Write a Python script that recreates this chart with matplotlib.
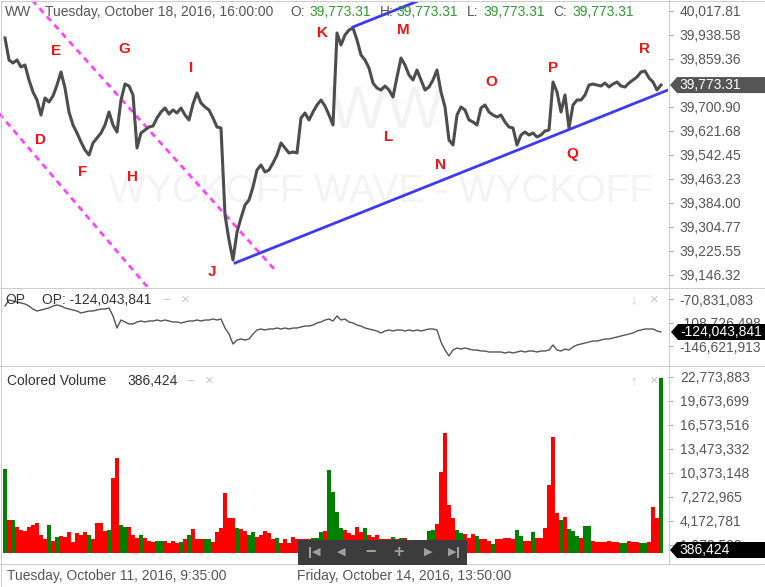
import matplotlib
matplotlib.use("Agg")
import matplotlib.pyplot as plt
import numpy as np
from matplotlib.patches import Polygon, Rectangle
from matplotlib.lines import Line2D
from matplotlib.transforms import IdentityTransform

plt.rcParams['font.family'] = ['Liberation Sans', 'DejaVu Sans']

# ---------------- data ----------------
price = [39928.7, 39856.1, 39846.2, 39856.1, 39832.9, 39839.5, 39790.0, 39750.4, 39724.0, 39674.5,
         39730.6, 39717.4, 39737.2, 39773.5, 39816.4, 39763.6, 39684.4, 39641.5, 39615.1, 39585.4,
         39558.9, 39542.4, 39582.1, 39598.6, 39615.1, 39641.5, 39684.4, 39641.5, 39618.4, 39724.0,
         39776.8, 39770.2, 39740.5, 39565.6, 39615.1, 39625.0, 39634.9, 39638.2, 39664.6, 39684.4,
         39697.6, 39677.8, 39691.0, 39681.1, 39697.6, 39674.5, 39658.0, 39710.8, 39747.1, 39714.1,
         39700.9, 39691.0, 39664.6, 39634.9, 39631.6, 39344.4, 39261.8, 39195.8, 39288.2, 39334.5,
         39377.4, 39393.9, 39436.8, 39492.9, 39509.4, 39486.3, 39492.9, 39516.0, 39542.4, 39582.1,
         39565.6, 39549.0, 39552.3, 39549.0, 39664.6, 39681.1, 39658.0, 39684.4, 39707.5, 39724.0,
         39704.2, 39674.5, 39641.5, 39945.2, 39905.6, 39938.6, 39955.1, 39961.7, 39922.1, 39872.5,
         39856.1, 39829.6, 39780.1, 39763.6, 39757.0, 39770.2, 39757.0, 39733.9, 39799.9, 39862.6,
         39839.5, 39806.5, 39790.0, 39823.0, 39790.0, 39757.0, 39766.9, 39790.0, 39823.0, 39750.4,
         39700.9, 39592.0, 39575.4, 39674.5, 39700.9, 39691.0, 39658.0, 39651.4, 39641.5, 39697.6,
         39707.5, 39684.4, 39674.5, 39667.9, 39674.5, 39651.4, 39634.9, 39631.6, 39575.4, 39608.5,
         39618.4, 39608.5, 39615.1, 39601.9, 39608.5, 39621.7, 39625.0, 39783.4, 39750.4, 39684.4,
         39740.5, 39631.6, 39707.5, 39724.0, 39724.0, 39740.5, 39773.5, 39776.8, 39773.5, 39770.2,
         39780.1, 39766.9, 39776.8, 39783.4, 39770.2, 39766.9, 39780.1, 39790.0, 39799.9, 39816.4,
         39819.7, 39796.6, 39783.4, 39757.0, 39773.31]

op_millions = [-82.1, -72.4, -74.1, -75.7, -77.3, -78.9, -82.1, -87.0, -90.2, -88.6,
               -87.0, -85.3, -82.1, -80.5, -82.1, -85.3, -87.0, -88.6, -90.2, -93.4,
               -91.8, -90.2, -90.2, -88.6, -87.0, -87.0, -85.3, -98.2, -117.6, -104.7,
               -107.9, -111.1, -111.1, -107.9, -106.3, -107.9, -106.3, -106.3, -104.7, -106.3,
               -104.7, -106.3, -107.9, -107.9, -109.5, -107.9, -106.3, -106.3, -104.7, -106.3,
               -104.7, -104.7, -103.1, -104.7, -103.1, -117.6, -127.3, -143.4, -137.0, -135.3,
               -137.0, -135.3, -127.3, -120.8, -119.2, -120.8, -119.2, -119.2, -117.6, -119.2,
               -117.6, -119.2, -117.6, -117.6, -116.0, -114.4, -114.4, -112.8, -109.5, -107.9,
               -104.7, -103.1, -106.3, -98.2, -104.7, -103.1, -107.9, -109.5, -112.8, -114.4,
               -117.6, -119.2, -120.8, -122.4, -125.7, -122.4, -120.8, -122.4, -120.8, -120.8,
               -122.4, -120.8, -122.4, -120.8, -122.4, -120.8, -119.2, -119.2, -120.8, -140.2,
               -153.1, -162.7, -153.1, -149.9, -151.5, -149.9, -151.5, -153.1, -153.1, -154.7,
               -154.7, -156.3, -156.3, -156.3, -156.3, -157.9, -156.3, -157.9, -156.3, -154.7,
               -156.3, -154.7, -154.7, -156.3, -154.7, -154.7, -153.1, -145.0, -153.1, -154.7,
               -151.5, -153.1, -148.2, -145.0, -143.4, -141.8, -140.2, -138.6, -138.6, -137.0,
               -135.3, -135.3, -133.7, -132.1, -130.5, -128.9, -127.3, -125.7, -122.4, -120.8,
               -119.2, -119.2, -119.2, -122.4, -124.04]

volume_millions = [10.85, 4.3, 4.3, 3.3, 3.0, 2.8, 3.4, 3.6, 3.9, 2.3,
                   1.8, 3.6, 1.5, 2.1, 2.2, 2.1, 2.7, 1.4, 2.6, 2.3,
                   2.7, 2.3, 1.8, 3.9, 3.9, 2.9, 3.0, 9.7, 12.3, 3.6,
                   3.3, 3.4, 2.3, 2.0, 2.3, 1.9, 1.6, 1.4, 1.5, 1.5,
                   1.5, 1.3, 1.5, 1.3, 1.4, 1.8, 2.3, 3.1, 1.8, 1.8,
                   1.8, 1.8, 1.4, 2.7, 3.2, 7.75, 4.5, 4.5, 3.2, 3.1,
                   2.8, 2.3, 2.7, 2.1, 2.3, 2.8, 2.6, 1.8, 1.9, 1.3,
                   1.8, 1.3, 2.1, 1.8, 1.8, 1.8, 1.8, 1.9, 1.9, 2.7,
                   2.9, 10.7, 7.9, 5.3, 3.2, 3.0, 2.6, 2.3, 3.3, 2.7,
                   3.2, 2.3, 2.1, 2.3, 1.8, 1.8, 1.8, 2.1, 1.8, 1.9,
                   1.9, 1.5, 1.6, 1.5, 1.6, 1.5, 2.8, 3.0, 3.8, 10.4,
                   15.5, 6.2, 4.5, 3.0, 2.6, 2.4, 1.9, 2.4, 2.2, 1.8,
                   1.8, 1.5, 1.2, 1.8, 1.8, 1.9, 2.0, 1.8, 3.0, 2.2,
                   1.5, 1.5, 2.7, 2.0, 2.0, 3.2, 8.8, 15.0, 5.2, 4.2,
                   4.6, 3.1, 2.9, 2.2, 1.9, 3.5, 3.5, 1.5, 1.4, 1.4,
                   1.4, 1.5, 1.4, 1.4, 1.3, 1.3, 1.5, 1.4, 1.4, 1.3,
                   1.3, 1.4, 5.9, 4.5, 22.6]

volume_direction = ("GRGRRRRRRR" "RGRGRRRRRR" "RGRRRRGRRG" "GRRRGRRRGG" "RRRRGRGRRR"
                    "GGRRRRRRGR" "RGGRRRRRGR" "RRRRRRRGGG" "RGGGGRRRRR" "GRRRRRRGRG"
                    "RRRRRRGGRR" "RRRGGRRRGR" "RRGRRRRRGG" "RRGRRRRRRG" "RGGGRGGRRR"
                    "RRRRGGRRRG" "GRRRG")

price_ticks = [40017.81, 39938.58, 39859.36, 39700.90, 39621.68, 39542.45,
               39463.23, 39384.00, 39304.77, 39225.55, 39146.32]
op_ticks = [-70831083, -108726498, -146621913]
vol_ticks = [1072598, 4172781, 7272965, 10373148, 13473332, 16573516, 19673699, 22773883]
vol_tick_labels = ["1,072,598", "4,172,781", "7,272,965", "10,373,148", "13,473,332",
                   "16,573,516", "19,673,699", "22,773,883"]

wave_letters = list("DEFGHIJKLMNOPQR")
wave_x = [8.75, 12.75, 19.5, 29.75, 31.75, 46.5, 51.75, 79.25, 96, 99.5, 109, 121.5, 137, 141.75, 160]
wave_y = [39592, 39885.8, 39486.3, 39892.4, 39469.8, 39829.6, 39156.2, 39945.2, 39601.9,
          39955.1, 39509.4, 39783.4, 39829.6, 39545.7, 39892.4]

# hand-drawn trend lines (x index, price)
channel_upper = ([6.75, 67.5], [40054.1, 39162.8])
channel_lower = ([-2.5, 36.25], [39695.6, 39096.9])
support_line = ([57.5, 165.75], [39185.9, 39757.0])
support_parallel = ([87.0, 105.0], [39965.0, 40060.1])

last_price = 39773.31
last_op = -124043841
last_vol = 386424

# ---------------- layout ----------------
W, H = 765, 587
fig = plt.figure(figsize=(W / 100, H / 100), dpi=100)
fig.patch.set_facecolor('white')


def box(l, t, r, b):
    return [l / W, 1 - b / H, (r - l) / W, (b - t) / H]


ax_p = fig.add_axes(box(0, 1, 668, 287))
ax_o = fig.add_axes(box(0, 288, 668, 365))
ax_v = fig.add_axes(box(0, 366, 668, 563))

xs = np.arange(len(price))
XL = (-1.25, 165.75)

GRAY = '#555555'
for ax in (ax_p, ax_o, ax_v):
    ax.set_xlim(*XL)
    for s in ax.spines.values():
        s.set_visible(False)
    ax.set_xticks([])
    ax.yaxis.tick_right()
    ax.tick_params(axis='y', direction='out', length=3.5, width=0.8, color='#aaaaaa',
                   labelcolor=GRAY, labelsize=10, pad=5)

# ---- price panel ----
ax_p.set_ylim(39106.7, 40050.8)
ax_p.text(386 / W, 1 - 113 / H, "WW", transform=fig.transFigure, fontsize=44,
          color='#f3f3f3', ha='center', va='center', zorder=0)
ax_p.text(381 / W, 1 - 192 / H, "WYCKOFF WAVE - WYCKOFF", transform=fig.transFigure,
          fontsize=28, color='#f3f3f3', ha='center', va='center', zorder=0)
ax_p.plot(xs, price, color='#4d4d4d', lw=2.2, solid_joinstyle='round', zorder=3)
for xd, yd in (channel_upper, channel_lower):
    ax_p.plot(xd, yd, color='#ff44ff', lw=2.0, dashes=(2.2, 1.8), zorder=2)
for xd, yd in (support_line, support_parallel):
    ax_p.plot(xd, yd, color='#3b3bf0', lw=2.0, zorder=4)
for ch, xw, yw in zip(wave_letters, wave_x, wave_y):
    ax_p.text(xw, yw, ch, color='#f01414', fontsize=11, fontweight='bold',
              ha='center', va='center', zorder=5)
ax_p.set_yticks(price_ticks)
ax_p.set_yticklabels([f"{v:,.2f}" for v in price_ticks])

# ---- OP panel ----
ax_o.set_ylim(-177.26e6, -53.09e6)
ax_o.plot(xs, np.array(op_millions) * 1e6, color='#555555', lw=1.0, zorder=3)
ax_o.set_yticks(op_ticks)
ax_o.set_yticklabels([f"{v:,.0f}" for v in op_ticks])

# ---- volume panel ----
ax_v.set_ylim(-1.2917e6, 24.155e6)
vcolors = ['#008000' if c == 'G' else '#ff0000' for c in volume_direction]
ax_v.bar(xs, np.array(volume_millions) * 1e6, width=1.0, color=vcolors, linewidth=0, zorder=3)
ax_v.set_yticks(vol_ticks)
ax_v.set_yticklabels(vol_tick_labels)


# ---------------- decorations ----------------
def ftext(px, py, s, **kw):
    kw.setdefault('va', 'center')
    kw.setdefault('fontsize', 10)
    return fig.text(px / W, 1 - py / H, s, **kw)


def pline(x0, y0, x1, y1, color='#cccccc', lw=0.75, z=20):
    fig.add_artist(Line2D([x0, x1], [H - y0, H - y1], color=color, lw=lw,
                          transform=IdentityTransform(), zorder=z))


# separators / borders
pline(0, 287.5, 765, 287.5)
pline(0, 365.5, 765, 365.5)
pline(0, 563.5, 765, 563.5)
pline(668.5, 0, 668.5, 563.5)
fig.add_artist(Rectangle((0.5, 0.5), W - 1, H - 1, fill=False, ec='#cccccc', lw=0.75,
                         transform=IdentityTransform(), zorder=20))

# header line
GREEN = '#2e9a2e'
ftext(5, 12, "WW", color=GRAY)
ftext(45, 12, "Tuesday, October 18, 2016, 16:00:00", color=GRAY)
for lx, lab, vx in ((290, "O:", 309), (380, "H:", 396), (467, "L:", 483), (553, "C:", 572)):
    ftext(lx, 12, lab, color=GRAY)
    ftext(vx, 12, f"{last_price:,.2f}", color=GREEN)

# OP header
ftext(5, 300, "OP", color='#333333')
ftext(42, 300, f"OP: {last_op:,.0f}", color='#333333')
ftext(162, 300, "\u2212", color='#c8c8c8')
ftext(181, 300, "\u00d7", color='#c8c8c8', fontsize=11)
ftext(630, 300, "\u2193", color='#c8c8c8', fontsize=9)
ftext(650, 300, "\u00d7", color='#c8c8c8', fontsize=11)

# volume header
ftext(7, 381, "Colored Volume", color='#333333')
ftext(127, 381, f"{last_vol:,}", color='#333333')
ftext(186, 381, "\u2212", color='#c8c8c8')
ftext(205, 381, "\u00d7", color='#c8c8c8', fontsize=11)
ftext(630, 381, "\u2191", color='#c8c8c8', fontsize=9)
ftext(650, 381, "\u00d7", color='#c8c8c8', fontsize=11)

# date row
ftext(7, 576, "Tuesday, October 11, 2016, 9:35:00", color=GRAY)
ftext(297, 576, "Friday, October 14, 2016, 13:50:00", color=GRAY)


# value tags on the right axis
def tag(ax, value, label, bg, x0=670, x1=765, h=16):
    _, yd = ax.transData.transform((0, value))
    verts = [(x0, yd), (x0 + 7, yd + h / 2), (x1, yd + h / 2), (x1, yd - h / 2), (x0 + 7, yd - h / 2)]
    fig.add_artist(Polygon(verts, closed=True, transform=IdentityTransform(),
                           fc=bg, ec='none', zorder=30))
    fig.text((x0 + 9) / W, yd / H, label, color='white', fontsize=10,
             va='center', ha='left', zorder=31)


tag(ax_p, last_price, f"{last_price:,.2f}", '#555555')
tag(ax_o, last_op, f"{last_op:,.0f}", '#000000', x0=671)
tag(ax_v, last_vol, f"{last_vol:,}", '#000000')

# navigation widget
fig.add_artist(Rectangle((298, H - 565), 169, 25, fc='#3c3c3c', ec='none',
                         transform=IdentityTransform(), zorder=40))
ICON = '#a0a0a0'
fig.add_artist(Rectangle((309, H - 558), 1.5, 11, fc=ICON, ec='none',
                         transform=IdentityTransform(), zorder=41))
ftext(316, 552, "\u25c0", color=ICON, fontsize=8, ha='center', zorder=41)
ftext(341, 552, "\u25c0", color=ICON, fontsize=8, ha='center', zorder=41)
ftext(370, 552, "\u2212", color=ICON, fontsize=13, ha='center', fontweight='bold', zorder=41)
ftext(398, 552, "+", color=ICON, fontsize=13, ha='center', fontweight='bold', zorder=41)
ftext(428, 552, "\u25b6", color=ICON, fontsize=8, ha='center', zorder=41)
ftext(452, 552, "\u25b6", color=ICON, fontsize=8, ha='center', zorder=41)
fig.add_artist(Rectangle((457, H - 558), 1.5, 11, fc=ICON, ec='none',
                         transform=IdentityTransform(), zorder=41))

fig.savefig("out.png", dpi=100)
